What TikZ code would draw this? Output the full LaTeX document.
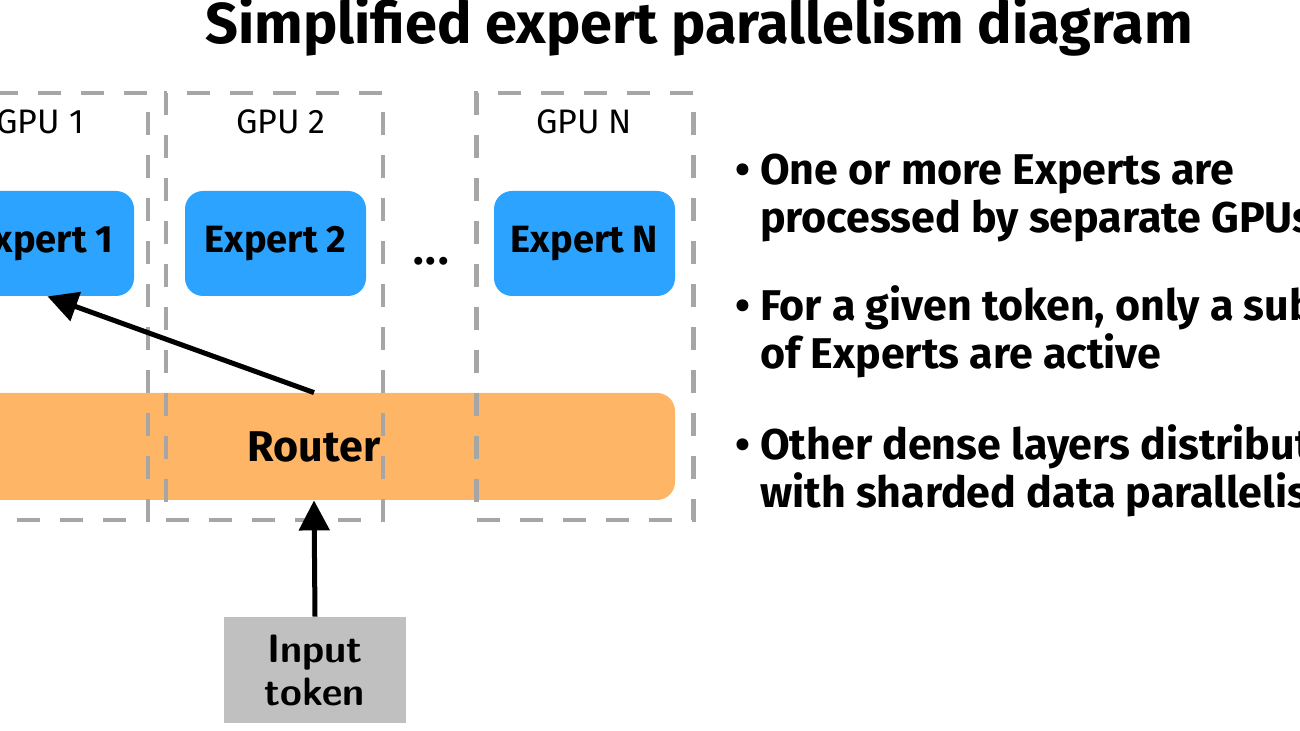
\documentclass[tikz,border=0pt]{standalone}
\usepackage{fontspec}
\setmainfont{Fira Sans}
\usetikzlibrary{arrows.meta}

\definecolor{expblue}{HTML}{2CA3FF}
\definecolor{routorange}{HTML}{FEB566}
\definecolor{gpugray}{HTML}{A6A6A6}
\definecolor{inpgray}{HTML}{C0C0C0}

\tikzset{
  gpubox/.style={draw=gpugray,line width=2.4pt,dash pattern=on 11.5pt off 10pt,
    minimum width=108.5pt,minimum height=213.5pt,inner sep=0pt},
  gpulabel/.style={font=\fontsize{17}{19}\selectfont},
  expbox/.style={fill=expblue,rounded corners=9pt,minimum width=90.5pt,
    minimum height=52.5pt,font=\bfseries\fontsize{19}{21}\selectfont},
  routbox/.style={fill=routorange,rounded corners=9pt,minimum width=361pt,
    minimum height=53.5pt,font=\bfseries\fontsize{21.5}{23}\selectfont},
  inbox/.style={fill=inpgray,minimum width=91pt,minimum height=53pt,align=center,
    font=\sffamily\bfseries\fontsize{19.8}{21.5}\selectfont},
  point/.style={anchor=base west,align=left,font=\bfseries\fontsize{21.5}{24}\selectfont},
  link/.style={line width=2.5pt,-{Triangle[length=15pt,width=15pt]}}
}

\begin{document}
\begin{tikzpicture}[x=0.5pt,y=-0.5pt]
  \useasboundingbox (0,0) rectangle (1300,731);
  \clip (0,0) rectangle (1300,731);

  \node[anchor=base,font=\bfseries\fontsize{28.8}{32}\selectfont] (T) at (699,44)
    {Simplified expert parallelism diagram};

  \node[routbox] (R) at (314,446.5) {Router};

  \node[expbox] (E1) at (43.5,243.5) {Expert 1};
  \node[expbox] (E2) at (275.5,243.5) {Expert 2};
  \node[expbox] (EN) at (584.5,243.5) {Expert N};
  \node[font=\bfseries\fontsize{22}{24}\selectfont,anchor=base] (D) at (431,265) {.\kern1pt.\kern1pt.};

  \node[gpubox] (G1) at (39.5,306.5) {};
  \node[gpubox] (G2) at (274.5,306.5) {};
  \node[gpubox] (GN) at (585,306.5) {};
  \node[gpulabel] (L1) at (40,122) {GPU 1};
  \node[gpulabel] (L2) at (281,122) {GPU 2};
  \node[gpulabel] (LN) at (584,122) {GPU N};

  \node[inbox] (IT) at (315,670) {Input\\token};

  \draw[link] (IT.north) -- (R.south);
  \draw[link] (R.north) -- ([xshift=2pt]E1.south);

  % points on the right
  \node[point] (P1) at (728,233) {\textbullet\ One or more Experts are\\\phantom{\textbullet\ }processed by separate GPUs};
  \node[point] (P2) at (728,369) {\textbullet\ For a given token, only a subset\\\phantom{\textbullet\ }of Experts are active};
  \node[point] (P3) at (728,508) {\textbullet\ Other dense layers distributed\\\phantom{\textbullet\ }with sharded data parallelism};
\end{tikzpicture}
\end{document}
